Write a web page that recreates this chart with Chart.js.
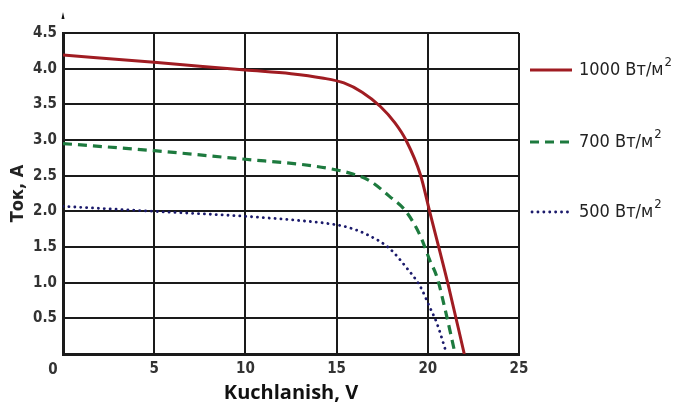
<!DOCTYPE html>
<html>
<head>
<meta charset="utf-8">
<script src="https://cdn.jsdelivr.net/npm/chart.js@4/dist/chart.umd.min.js"></script>
<style>
  html, body { margin: 0; padding: 0; background: #fff; }
  #wrap { width: 680px; height: 405px; }
</style>
</head>
<body>
<div id="wrap"><canvas id="ivChart"></canvas></div>
<script>
// I-V curves of a solar panel at different irradiance
var seriesLabels = ['1000 Вт/м', '700 Вт/м', '500 Вт/м'];

var volt1000 = [0, 5, 10, 12.5, 14.2, 15.4, 16.4, 17.4, 18.2, 18.8, 19.6, 20.1, 21.1, 22.0];
var amp1000  = [4.19, 4.09, 3.98, 3.93, 3.87, 3.80, 3.67, 3.47, 3.24, 3.0, 2.51, 2.0, 0.99, 0.0];

var volt700 = [0, 5, 10, 13, 14.6, 15.8, 16.8, 17.9, 18.8, 19.6, 20.1, 20.5, 21.0, 21.5];
var amp700  = [2.95, 2.85, 2.73, 2.66, 2.60, 2.53, 2.43, 2.21, 2.0, 1.65, 1.32, 1.08, 0.57, 0.0];

var volt500 = [0, 5, 10, 13, 14.5, 15.7, 16.7, 17.9, 18.8, 19.6, 20.1, 20.5, 21.0];
var amp500  = [2.07, 2.0, 1.93, 1.87, 1.83, 1.77, 1.67, 1.48, 1.22, 0.94, 0.66, 0.43, 0.03];

var xTicks = [0, 5, 10, 15, 20, 25];
var yTicks = [0, 0.5, 1.0, 1.5, 2.0, 2.5, 3.0, 3.5, 4.0, 4.5];

function toPoints(xs, ys) {
    var pts = [];
    for (var i = 0; i < xs.length; i++) {
        pts.push({ x: xs[i], y: ys[i] });
    }
    return pts;
}

var narrow = "'DejaVu Sans Condensed', 'Liberation Sans Narrow', sans-serif";
var tickFont = { family: narrow, size: 15, weight: 'bold' };

// legend on the right + the corner "0" + the little arrow on the y axis
var extras = {
    id: 'extras',
    afterDraw: function (chart) {
        var ctx = chart.ctx;
        var area = chart.chartArea;
        ctx.save();

        // arrow above y axis
        ctx.fillStyle = '#111';
        ctx.beginPath();
        ctx.moveTo(area.left, 12);
        ctx.lineTo(area.left - 1.5, 19);
        ctx.lineTo(area.left + 1.5, 19);
        ctx.closePath();
        ctx.fill();

        // shared origin label
        ctx.font = 'bold 15px ' + narrow;
        ctx.fillStyle = '#333';
        ctx.textAlign = 'center';
        ctx.textBaseline = 'middle';
        ctx.fillText('0', 53, 370);

        // legend
        var rows = [70, 142, 212];
        chart.data.datasets.forEach(function (ds, i) {
            var y = rows[i];
            ctx.strokeStyle = ds.borderColor;
            ctx.lineWidth = ds.borderWidth;
            ctx.lineCap = ds.borderCapStyle || 'butt';
            ctx.setLineDash(ds.borderDash || []);
            ctx.beginPath();
            ctx.moveTo(i === 2 ? 532 : 530, y);
            ctx.lineTo(572, y);
            ctx.stroke();
            ctx.setLineDash([]);

            ctx.fillStyle = '#222';
            ctx.textAlign = 'left';
            ctx.textBaseline = 'middle';
            ctx.font = '18px ' + narrow;
            ctx.fillText(ds.label, 579, y);
            var w = ctx.measureText(ds.label).width;
            ctx.font = '13px ' + narrow;
            ctx.fillText('2', 579 + w + 1, y - 7);
        });
        ctx.restore();
    }
};

new Chart(document.getElementById('ivChart'), {
    type: 'line',
    data: {
        datasets: [{
            label: seriesLabels[0],
            data: toPoints(volt1000, amp1000),
            borderColor: '#a01c22',
            borderWidth: 3,
            pointRadius: 0,
            cubicInterpolationMode: 'monotone'
        }, {
            label: seriesLabels[1],
            data: toPoints(volt700, amp700),
            borderColor: '#1d7a3e',
            borderWidth: 3.2,
            borderDash: [9, 6],
            pointRadius: 0,
            cubicInterpolationMode: 'monotone'
        }, {
            label: seriesLabels[2],
            data: toPoints(volt500, amp500),
            borderColor: '#1b1a6b',
            borderWidth: 2.8,
            borderDash: [0.1, 5.8],
            borderCapStyle: 'round',
            pointRadius: 0,
            cubicInterpolationMode: 'monotone'
        }]
    },
    options: {
        responsive: true,
        maintainAspectRatio: false,
        animation: false,
        layout: { padding: { top: 33, right: 161, left: 8, bottom: 0 } },
        plugins: {
            legend: { display: false },
            tooltip: { enabled: false }
        },
        scales: {
            x: {
                type: 'linear',
                min: 0,
                max: 25,
                afterBuildTicks: function (axis) {
                    axis.ticks = xTicks.map(function (v) { return { value: v }; });
                },
                ticks: {
                    font: tickFont,
                    color: '#333',
                    padding: 6,
                    maxRotation: 0,
                    callback: function (v) { return v === 0 ? '' : v; }
                },
                grid: { color: '#1a1a1a', lineWidth: 2, drawTicks: false },
                border: { color: '#1a1a1a', width: 3 },
                title: {
                    display: true,
                    text: 'Kuchlanish, V',
                    font: { family: "'Open Sans', sans-serif", size: 20, weight: 'bold' },
                    color: '#111',
                    padding: { top: 0, bottom: 0 }
                },
                afterFit: function (axis) { axis.height = 51; }
            },
            y: {
                min: 0,
                max: 4.5,
                afterBuildTicks: function (axis) {
                    axis.ticks = yTicks.map(function (v) { return { value: v }; });
                },
                ticks: {
                    font: tickFont,
                    color: '#333',
                    padding: 6,
                    callback: function (v) { return v === 0 ? '' : v.toFixed(1); }
                },
                grid: { color: '#1a1a1a', lineWidth: 2, drawTicks: false },
                border: { color: '#1a1a1a', width: 3 },
                title: {
                    display: true,
                    text: 'Ток, А',
                    font: { family: narrow, size: 18, weight: 'bold' },
                    color: '#222',
                    padding: { top: 0, bottom: 2 }
                },
                afterFit: function (axis) { axis.width = 55; }
            }
        }
    },
    plugins: [extras]
});
</script>
</body>
</html>
